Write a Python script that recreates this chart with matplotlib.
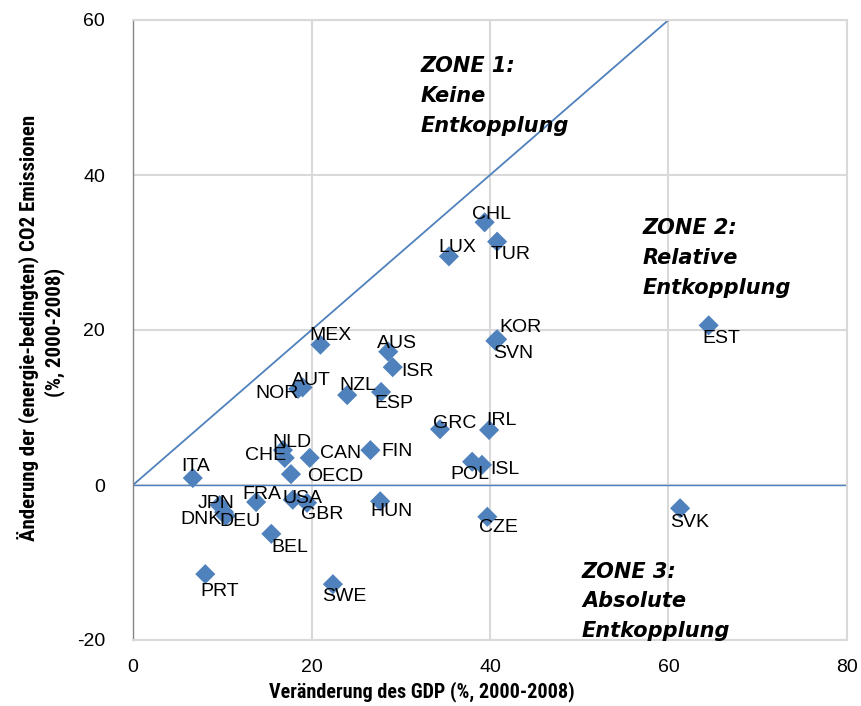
import matplotlib
matplotlib.use("Agg")
import matplotlib.pyplot as plt

# Veränderung GDP vs. CO2 Emissionen 2000-2008
countries = ["ITA", "JPN", "DNK", "DEU", "FRA", "CHE", "NLD", "CAN", "OECD", "USA",
             "GBR", "FIN", "HUN", "BEL", "PRT", "SWE", "MEX", "AUS", "ISR", "AUT",
             "NOR", "NZL", "ESP", "GRC", "IRL", "POL", "ISL", "CZE", "CHL", "TUR",
             "LUX", "KOR", "SVN", "EST", "SVK"]
gdp_change = [6.7, 9.7, 10.2, 10.4, 13.8, 17.0, 16.8, 19.8, 17.7, 17.9,
              19.5, 26.6, 27.7, 15.5, 8.1, 22.4, 21.0, 28.6, 29.1, 19.0,
              18.5, 24.0, 27.8, 34.4, 39.9, 38.0, 39.1, 39.7, 39.4, 40.8,
              35.4, 40.8, 40.6, 64.5, 61.3]
co2_change = [0.9, -2.6, -3.5, -4.0, -2.2, 3.5, 4.5, 3.5, 1.4, -1.9,
              -2.3, 4.5, -2.1, -6.3, -11.5, -12.8, 18.1, 17.2, 15.2, 12.6,
              12.4, 11.6, 12.0, 7.2, 7.1, 3.0, 2.6, -4.1, 33.9, 31.4,
              29.5, 18.8, 18.6, 20.6, -3.0]

# label placement, pixels relative to each marker (x right, y up)
label_offsets = [(3, 12), (-3, 2), (-23, -7), (14, -6), (6, 8), (-19, 2), (9, 8), (31, 4),
                 (44, -2), (10, 1), (15, -12), (27, -1), (11, -10), (18, -14), (14, -17),
                 (11, -12), (10, 9), (9, 8), (25, -4), (9, 7), (-21, -5), (11, 10),
                 (13, -12), (15, 6), (12, 9), (-2, -13), (23, -5), (11, -11), (7, 8),
                 (13, -13), (8, 9), (23, 12), (18, -13), (13, -13), (10, -14)]

diag_x = [0, 60]
diag_y = [0, 60]

zones = [("ZONE 1:\nKeine\nEntkopplung", 32.2, 55.3),
         ("ZONE 2:\nRelative\nEntkopplung", 57.1, 34.4),
         ("ZONE 3:\nAbsolute\nEntkopplung", 50.3, -9.9)]

blue = "#4F81BD"
grid_gray = "#D9D9D9"
narrow = ["Liberation Sans Narrow", "Roboto Condensed", "Open Sans Condensed",
          "Liberation Sans"]

plt.rcParams["font.family"] = ["Liberation Sans", "DejaVu Sans"]
plt.rcParams["axes.unicode_minus"] = False

fig = plt.figure(figsize=(8.61, 7.06), dpi=100)
ax = fig.add_axes([133 / 861, 1 - 640 / 706, 714 / 861, 620 / 706])

ax.set_xlim(0, 80)
ax.set_ylim(-20, 60)
ax.set_xticks([0, 20, 40, 60, 80])
ax.set_yticks([-20, 0, 20, 40, 60])
ax.grid(True, color=grid_gray, linewidth=1.5)
ax.set_axisbelow(True)

ax.plot(diag_x, diag_y, color=blue, linewidth=1.3, zorder=2)
ax.axhline(0, color=blue, linewidth=1.0, zorder=2)

ax.scatter(gdp_change, co2_change, marker="D", s=105, color=blue,
           edgecolors="none", zorder=3)

for name, x, y, off in zip(countries, gdp_change, co2_change, label_offsets):
    ax.annotate(name, (x, y), xytext=off, textcoords="offset pixels",
                ha="center", va="center", fontsize=14, color="black", zorder=4)

for txt, x, y in zones:
    ax.text(x, y, txt, ha="left", va="top", fontsize=15, style="italic",
            fontweight="bold", family=["DejaVu Sans"], linespacing=1.6)

for side in ["top", "right", "bottom"]:
    ax.spines[side].set_color(grid_gray)
    ax.spines[side].set_linewidth(1.5)
ax.spines["left"].set_color("#868686")
ax.spines["left"].set_linewidth(1.0)

ax.tick_params(axis="both", length=0, labelsize=14)
ax.tick_params(axis="y", pad=20)
ax.tick_params(axis="x", pad=14)

ax.set_xlabel("Veränderung des GDP (%, 2000-2008)", fontsize=14.5,
              fontweight="bold", family=narrow)
ax.xaxis.set_label_coords(0.405, -0.066)

fig.text(28 / 861, 1 - 328 / 706, "Änderung der (energie-bedingten) CO2 Emissionen",
         rotation=90, ha="center", va="center", fontsize=15, fontweight="bold",
         family=narrow)
fig.text(55 / 861, 1 - 332 / 706, "(%, 2000-2008)",
         rotation=90, ha="center", va="center", fontsize=15, fontweight="bold",
         family=narrow)

fig.savefig("out.png", dpi=100)
